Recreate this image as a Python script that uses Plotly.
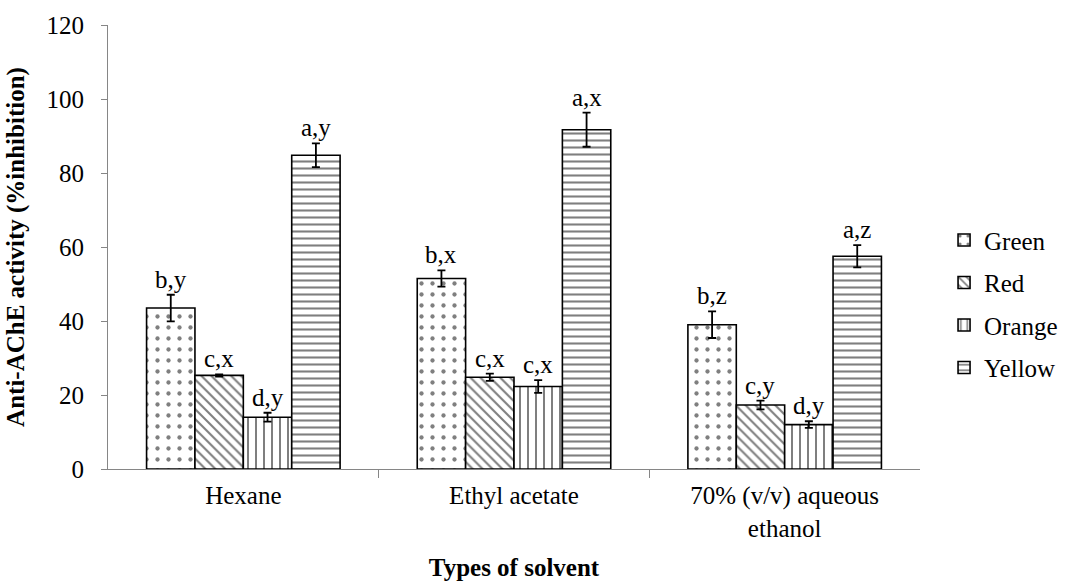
import plotly.graph_objects as go

categories = ["Hexane", "Ethyl acetate", "70% (v/v) aqueous<br>ethanol"]
series = ["Green", "Red", "Orange", "Yellow"]
values = {
    "Green": [43.5, 51.5, 39.0],
    "Red": [25.3, 24.8, 17.3],
    "Orange": [14.0, 22.3, 12.0],
    "Yellow": [84.8, 91.7, 57.5],
}
errors = {
    "Green": [3.6, 2.2, 3.6],
    "Red": [0.3, 1.0, 1.2],
    "Orange": [1.2, 1.7, 0.9],
    "Yellow": [3.2, 4.6, 3.0],
}
letters = {
    "Green": ["b,y", "b,x", "b,z"],
    "Red": ["c,x", "c,x", "c,y"],
    "Orange": ["d,y", "c,x", "d,y"],
    "Yellow": ["a,y", "a,x", "a,z"],
}
patterns = {"Green": ".", "Red": "\\", "Orange": "|", "Yellow": "-"}
pattern_sizes = {"Green": 11, "Red": 7, "Orange": 8, "Yellow": 7}
solidities = {"Green": 0.12, "Red": 0.3, "Orange": 0.25, "Yellow": 0.3}

FONT = "Liberation Serif, Times New Roman, serif"
FS = 25
bargap = 0.285
barw = (1 - bargap) / len(series)

fig = go.Figure()
xs = list(range(len(categories)))
for j, s in enumerate(series):
    fig.add_trace(go.Bar(
        name=s, x=xs, y=values[s],
        marker=dict(color="white", line=dict(color="black", width=1.6),
                    pattern=dict(shape=patterns[s], fgcolor="black", bgcolor="white",
                                 size=pattern_sizes[s], solidity=solidities[s])),
        error_y=dict(type="data", array=errors[s], color="black", thickness=1.8, width=4),
        legendgroup=s,
    ))
    for i in xs:
        fig.add_annotation(
            x=i + (j - (len(series) - 1) / 2) * barw,
            y=values[s][i] + errors[s][i],
            text=letters[s][i], showarrow=False, yanchor="bottom", yshift=0,
            font=dict(family=FONT, size=FS, color="black"),
        )

fig.update_layout(
    barmode="group", bargap=bargap, bargroupgap=0,
    width=1066, height=585,
    margin=dict(l=108, r=146, t=25, b=116, autoexpand=False),
    paper_bgcolor="white", plot_bgcolor="white",
    font=dict(family=FONT, size=FS, color="black"),
    legend=dict(xref="container", x=0.8856, y=0.567, xanchor="left", yanchor="top",
                traceorder="grouped", tracegroupgap=7,
                font=dict(family=FONT, size=FS, color="black"),
                itemwidth=30),
    showlegend=True,
)
fig.update_xaxes(
    tickmode="array", tickvals=xs, ticktext=categories, range=[-0.5, 2.5],
    showline=True, linecolor="#868686", linewidth=1, ticks="", showgrid=False,
    automargin=False, ticklabelstandoff=4,
    title=dict(text="<b>Types of solvent</b>", font=dict(family=FONT, size=FS), standoff=17),
    tickfont=dict(family=FONT, size=FS, color="black"),
)
# tick marks between categories
fig.update_layout(xaxis2=dict(overlaying="x", range=[-0.5, 2.5],
                              tickmode="array", tickvals=[0.5, 1.5], ticks="outside",
                              ticklen=8, tickcolor="#868686", showticklabels=False,
                              showgrid=False, showline=False, side="bottom"))
fig.add_trace(go.Scatter(x=[0.5, 1.5], y=[0, 0], xaxis="x2", mode="markers",
                         marker=dict(opacity=0), showlegend=False, hoverinfo="skip"))
fig.update_yaxes(
    range=[0, 120], tickvals=[0, 20, 40, 60, 80, 100, 120],
    showline=True, linecolor="#868686", linewidth=1, ticks="outside", ticklen=6,
    tickcolor="#868686", showgrid=False, zeroline=False, automargin=False,
    ticklabelstandoff=12,
    title=dict(text="<b>Anti-AChE activity (%inhibition)</b>", font=dict(family=FONT, size=FS), standoff=14),
    tickfont=dict(family=FONT, size=FS, color="black"),
)
fig.write_html("out.html")
